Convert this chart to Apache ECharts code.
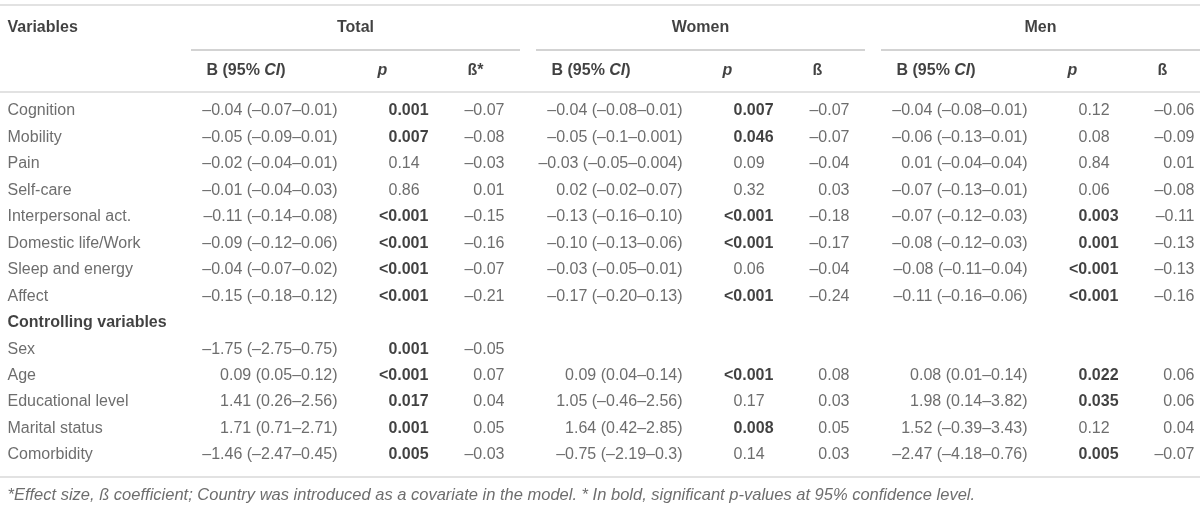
<!DOCTYPE html>
<html><head><meta charset="utf-8">
<script src="https://cdn.jsdelivr.net/npm/echarts@6/dist/echarts.min.js"></script>
<style>html,body{margin:0;padding:0;background:#fff}#c{width:1200px;height:510px}</style>
</head><body><div id="c"></div>
<script>
// ---------------- DATA ----------------
const rowLabels = ["Cognition","Mobility","Pain","Self-care","Interpersonal act.","Domestic life/Work","Sleep and energy","Affect","Controlling variables","Sex","Age","Educational level","Marital status","Comorbidity"];
const sectionRows = ["Controlling variables"];
const groupNames = ["Total","Women","Men"];
const betaHeaders = ["ß*","ß","ß"];

const totalB = ["–0.04 (–0.07–0.01)","–0.05 (–0.09–0.01)","–0.02 (–0.04–0.01)","–0.01 (–0.04–0.03)","–0.11 (–0.14–0.08)","–0.09 (–0.12–0.06)","–0.04 (–0.07–0.02)","–0.15 (–0.18–0.12)","","–1.75 (–2.75–0.75)","0.09 (0.05–0.12)","1.41 (0.26–2.56)","1.71 (0.71–2.71)","–1.46 (–2.47–0.45)"];
const totalP = ["0.001","0.007","0.14","0.86","<0.001","<0.001","<0.001","<0.001","","0.001","<0.001","0.017","0.001","0.005"];
const totalBeta = ["–0.07","–0.08","–0.03","0.01","–0.15","–0.16","–0.07","–0.21","","–0.05","0.07","0.04","0.05","–0.03"];

const womenB = ["–0.04 (–0.08–0.01)","–0.05 (–0.1–0.001)","–0.03 (–0.05–0.004)","0.02 (–0.02–0.07)","–0.13 (–0.16–0.10)","–0.10 (–0.13–0.06)","–0.03 (–0.05–0.01)","–0.17 (–0.20–0.13)","","","0.09 (0.04–0.14)","1.05 (–0.46–2.56)","1.64 (0.42–2.85)","–0.75 (–2.19–0.3)"];
const womenP = ["0.007","0.046","0.09","0.32","<0.001","<0.001","0.06","<0.001","","","<0.001","0.17","0.008","0.14"];
const womenBeta = ["–0.07","–0.07","–0.04","0.03","–0.18","–0.17","–0.04","–0.24","","","0.08","0.03","0.05","0.03"];

const menB = ["–0.04 (–0.08–0.01)","–0.06 (–0.13–0.01)","0.01 (–0.04–0.04)","–0.07 (–0.13–0.01)","–0.07 (–0.12–0.03)","–0.08 (–0.12–0.03)","–0.08 (–0.11–0.04)","–0.11 (–0.16–0.06)","","","0.08 (0.01–0.14)","1.98 (0.14–3.82)","1.52 (–0.39–3.43)","–2.47 (–4.18–0.76)"];
const menP = ["0.12","0.08","0.84","0.06","0.003","0.001","<0.001","<0.001","","","0.022","0.035","0.12","0.005"];
const menBeta = ["–0.06","–0.09","0.01","–0.08","–0.11","–0.13","–0.13","–0.16","","","0.06","0.06","0.04","–0.07"];

const footnote = "*Effect size, ß coefficient; Country was introduced as a covariate in the model. * In bold, significant p-values at 95% confidence level.";

// ---------------- LAYOUT ----------------
const W = 1200, H = 510;
const FONT = "'Liberation Sans', Arial, Helvetica, sans-serif";
const BODY_COLOR = "#484848", HEAD_COLOR = "#111";
const FS = 16;
const FIRST_ROW_PX = 111, PITCH_PX = 26.46;
const rowAt = px => (px - FIRST_ROW_PX) / PITCH_PX;   // convert layout px to row units
const Y_HEAD = rowAt(28), Y_SUB = rowAt(71), Y_FOOT = rowAt(495);
const Y_TOPLINE = rowAt(5), Y_GROUPLINE = rowAt(50), Y_SUBLINE = rowAt(92), Y_BOTLINE = rowAt(477);
const X_VAR = 7;
const GROUP_PITCH = 345;
const colLayout = k => {
  const o = k * GROUP_PITCH;
  return { bHead: 206 + o, bRight: 338 + o, pHead: 377 + o, p: 388 + o, betaHead: 467 + o, betaRight: 505 + o,
           line: [191 + o, Math.min(520 + o, W)] };
};

const groupsData = [
  { B: totalB, P: totalP, Beta: totalBeta },
  { B: womenB, P: womenP, Beta: womenBeta },
  { B: menB, P: menP, Beta: menBeta }
];

function isSig(p) {
  if (!p) return false;
  if (p.charAt(0) === '<') return true;
  return parseFloat(p) < 0.05;
}

const baseLabel = { show: true, distance: 0, fontFamily: FONT, fontSize: FS, color: BODY_COLOR };

function textSeries(name, items, position, extraLabel) {
  return {
    type: 'scatter', name, silent: true, symbolSize: 1,
    itemStyle: { color: 'rgba(0,0,0,0)' },
    label: Object.assign({}, baseLabel, { position, formatter: p => p.data.text }, extraLabel || {}),
    data: items.filter(d => d.text !== '').map(d => ({ value: [d.x, d.y], text: d.text, label: d.label }))
  };
}

const series = [];
series.push(textSeries('rows', rowLabels.map((t, i) => ({
  x: X_VAR, y: i, text: t,
  label: sectionRows.includes(t) ? { fontWeight: 'bold', color: HEAD_COLOR } : undefined
})), 'right'));

series.push(textSeries('varHead', [{ x: X_VAR, y: Y_HEAD, text: 'Variables' }], 'right', { fontWeight: 'bold', color: HEAD_COLOR }));

groupsData.forEach((g, k) => {
  const L = colLayout(k);
  series.push(textSeries('gname' + k, [{ x: (L.line[0] + L.line[1]) / 2, y: Y_HEAD, text: groupNames[k] }], 'inside', { fontWeight: 'bold', color: HEAD_COLOR }));
  series.push(textSeries('bh' + k, [{ x: L.bHead, y: Y_SUB, text: '{b|B (95% }{bi|CI}{b|)}' }], 'right', {
    rich: { b: { fontFamily: FONT, fontSize: FS, fontWeight: 'bold', color: HEAD_COLOR },
            bi: { fontFamily: FONT, fontSize: FS, fontWeight: 'bold', fontStyle: 'italic', color: HEAD_COLOR } }
  }));
  series.push(textSeries('ph' + k, [{ x: L.pHead, y: Y_SUB, text: 'p' }], 'right', { fontWeight: 'bold', fontStyle: 'italic', color: HEAD_COLOR }));
  series.push(textSeries('beh' + k, [{ x: L.betaHead, y: Y_SUB, text: betaHeaders[k] }], 'right', { fontWeight: 'bold', color: HEAD_COLOR }));
  series.push(textSeries('B' + k, g.B.map((t, i) => ({ x: L.bRight, y: i, text: t })), 'left'));
  series.push(textSeries('P' + k, g.P.map((t, i) => ({
    x: L.p, y: i, text: t,
    label: Object.assign(isSig(t) ? { fontWeight: 'bold', color: HEAD_COLOR } : {}, t.charAt(0) === '<' ? { offset: [-9.5, 0] } : {})
  })), 'right'));
  series.push(textSeries('Beta' + k, g.Beta.map((t, i) => ({ x: L.betaRight, y: i, text: t })), 'left'));
});

series.push(textSeries('foot', [{ x: X_VAR, y: Y_FOOT, text: footnote }], 'right', { fontStyle: 'italic', fontSize: 16.5 }));

const lineFull = (y, color) => [{ coord: [0, y], lineStyle: { color, width: 1.5, type: 'solid' } }, { coord: [W, y] }];
const ruleData = [
  lineFull(Y_TOPLINE, '#d9d9d9'),
  lineFull(Y_SUBLINE, '#d9d9d9'),
  lineFull(Y_BOTLINE, '#d9d9d9')
];
groupsData.forEach((g, k) => {
  const L = colLayout(k);
  ruleData.push([{ coord: [L.line[0], Y_GROUPLINE], lineStyle: { color: '#c4c4c4', width: 1.5, type: 'solid' } }, { coord: [L.line[1], Y_GROUPLINE] }]);
});
series.push({
  type: 'scatter', name: 'rules', silent: true, data: [], symbolSize: 0,
  markLine: { silent: true, symbol: ['none', 'none'], label: { show: false }, animation: false, data: ruleData }
});

const chart = echarts.init(document.getElementById('c'), null, { renderer: 'canvas' });
chart.setOption({
  animation: false,
  backgroundColor: '#fff',
  grid: { left: 0, right: 0, top: 0, bottom: 0 },
  xAxis: { type: 'value', min: 0, max: W, show: false },
  yAxis: { type: 'value', inverse: true, min: rowAt(0), max: rowAt(H), show: false },
  series
});
</script></body></html>
